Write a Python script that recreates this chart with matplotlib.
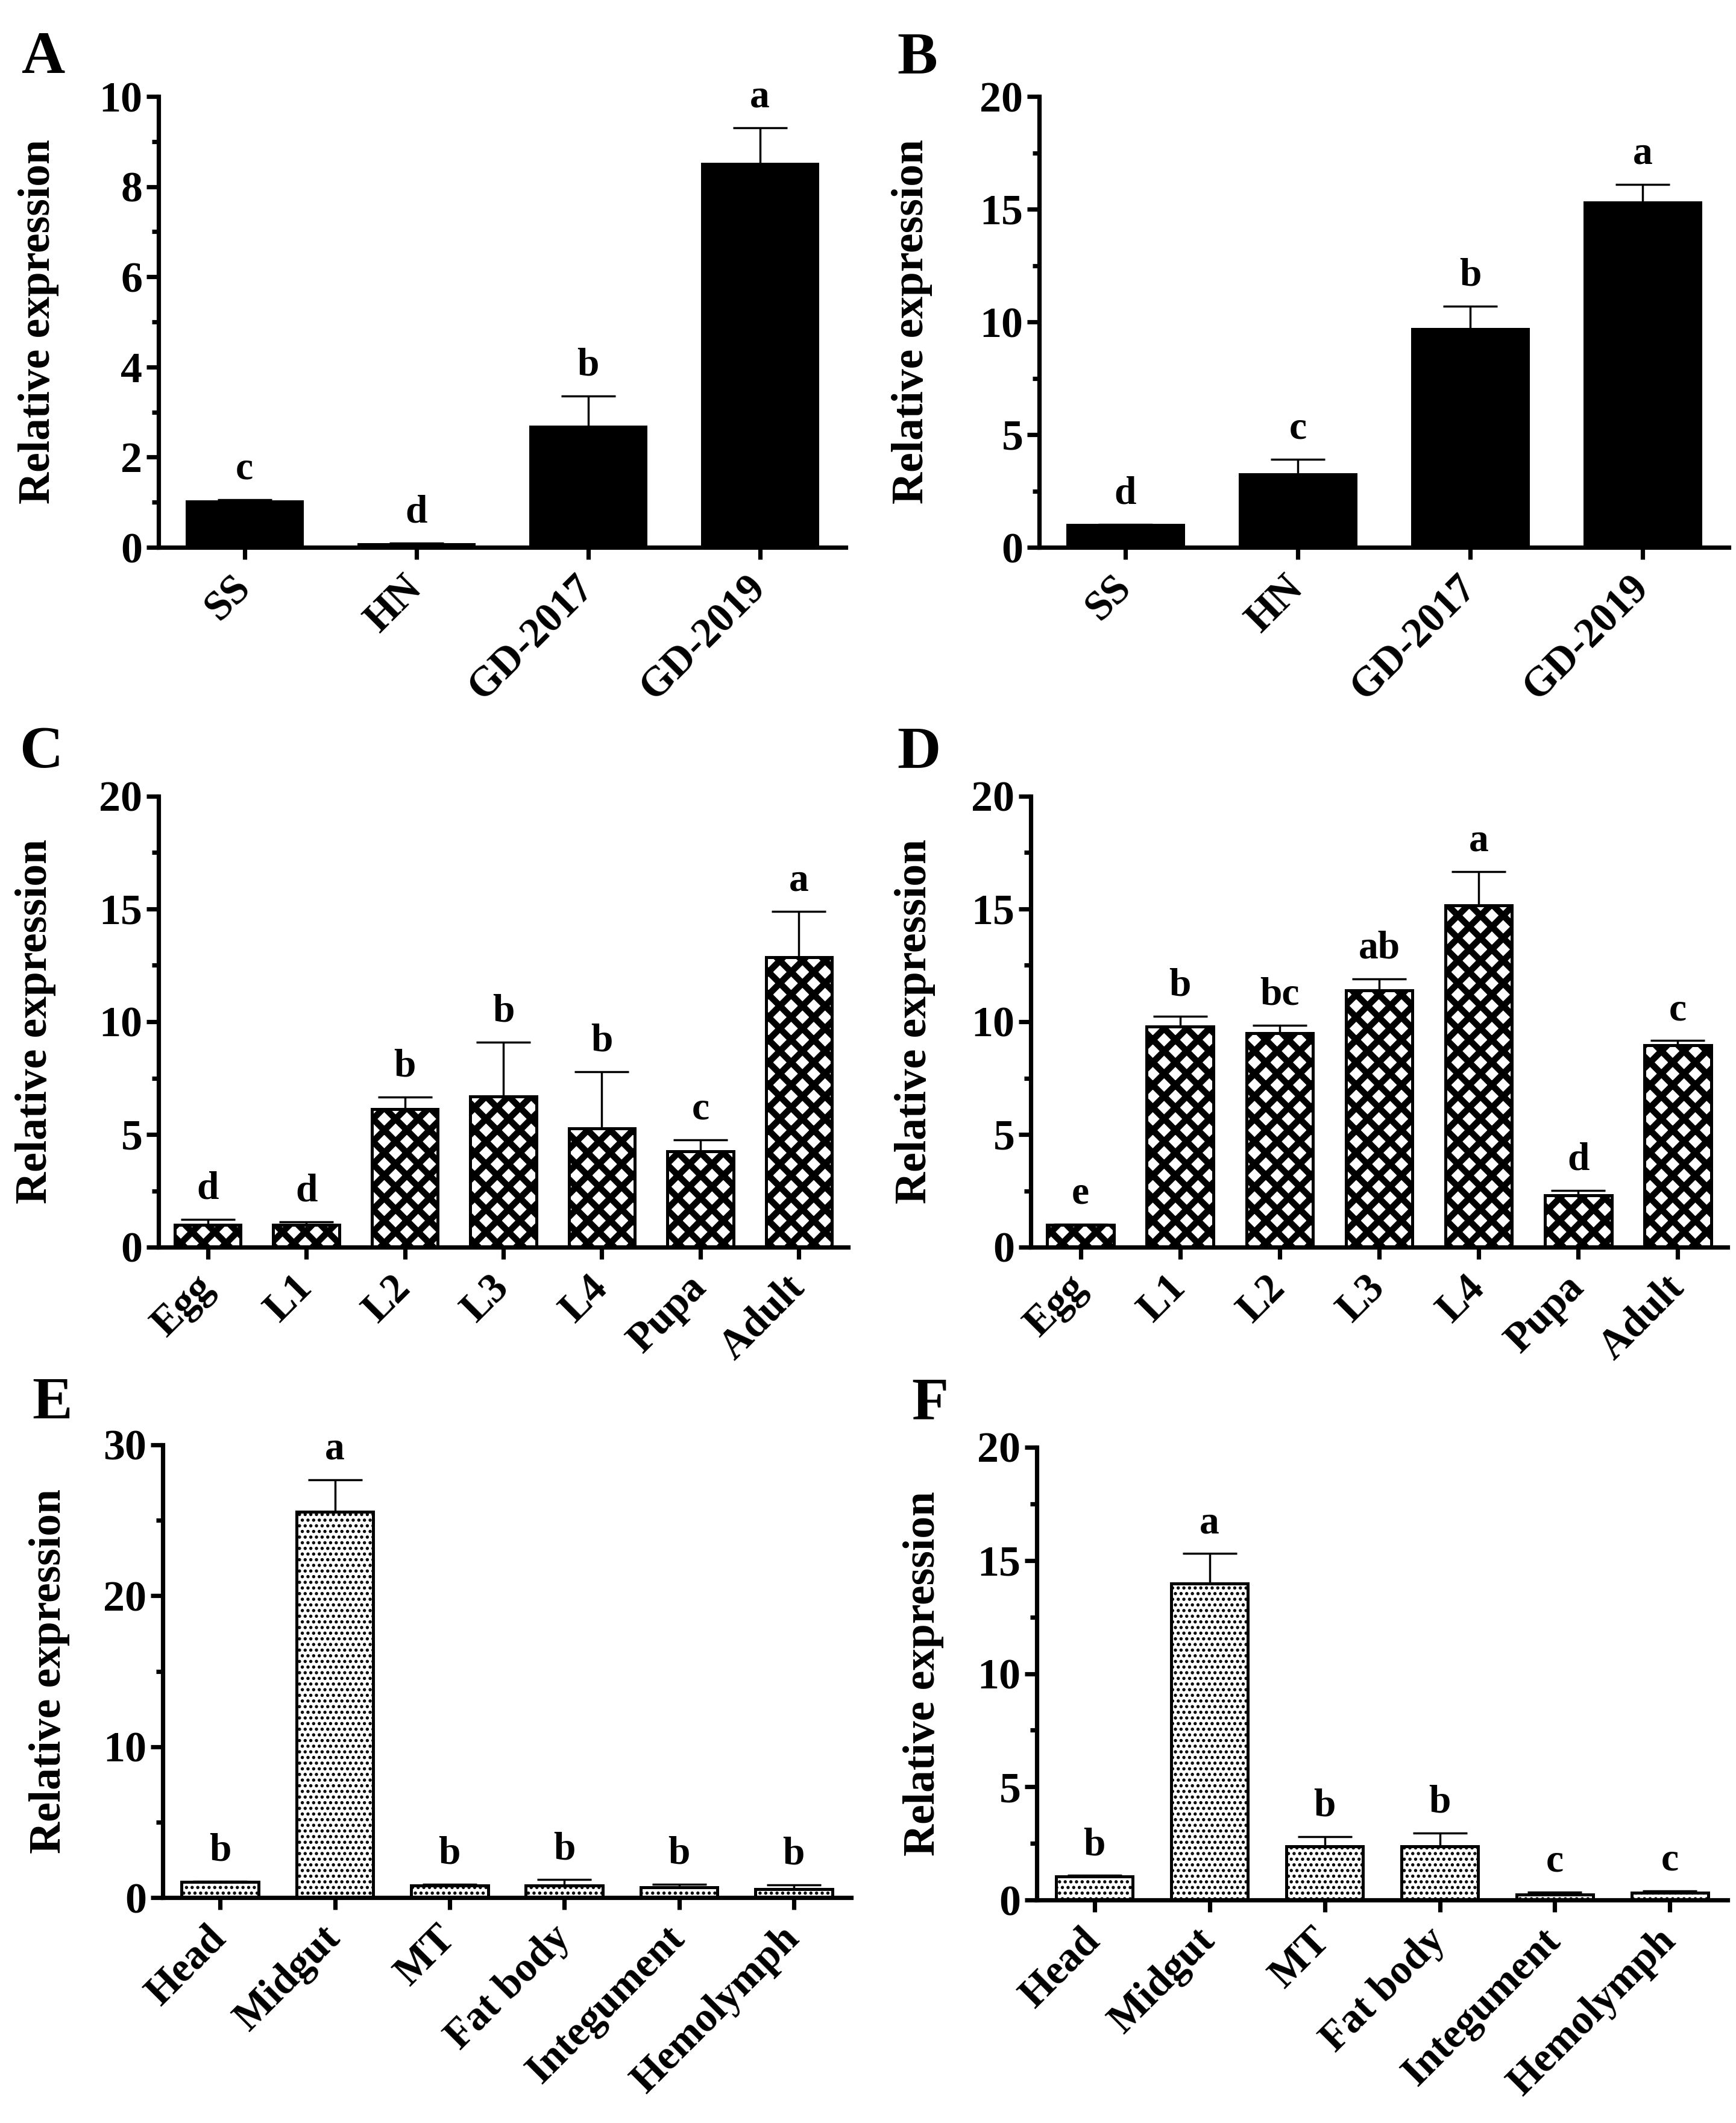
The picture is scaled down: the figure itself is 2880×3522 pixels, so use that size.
import matplotlib
matplotlib.use("Agg")
import matplotlib.pyplot as plt
import numpy as np
from matplotlib.ticker import MultipleLocator

plt.rcParams["font.family"] = "serif"
plt.rcParams["font.serif"] = ["Liberation Serif", "DejaVu Serif"]
plt.rcParams["font.weight"] = "bold"
plt.rcParams["axes.labelweight"] = "bold"

# ---- data ----
strains = ["SS", "HN", "GD-2017", "GD-2019"]
stages = ["Egg", "L1", "L2", "L3", "L4", "Pupa", "Adult"]
tissues = ["Head", "Midgut", "MT", "Fat body", "Integument", "Hemolymph"]

a_vals = [1.02, 0.07, 2.67, 8.50]
a_err = [0.04, 0.03, 0.69, 0.80]
a_sig = ["c", "d", "b", "a"]

b_vals = [1.00, 3.23, 9.69, 15.30]
b_err = [0.02, 0.68, 1.01, 0.79]
b_sig = ["d", "c", "b", "a"]

c_vals = [0.98, 0.98, 6.13, 6.69, 5.28, 4.25, 12.86]
c_err = [0.25, 0.15, 0.54, 2.41, 2.51, 0.51, 2.04]
c_sig = ["d", "d", "b", "b", "b", "c", "a"]

d_vals = [0.98, 9.78, 9.49, 11.40, 15.17, 2.29, 8.96]
d_err = [0.03, 0.47, 0.35, 0.50, 1.48, 0.23, 0.20]
d_sig = ["e", "b", "bc", "ab", "a", "d", "c"]

e_vals = [1.03, 25.55, 0.81, 0.81, 0.68, 0.56]
e_err = [0.05, 2.12, 0.06, 0.37, 0.19, 0.28]
e_sig = ["b", "a", "b", "b", "b", "b"]

f_vals = [1.04, 13.97, 2.38, 2.38, 0.25, 0.31]
f_err = [0.04, 1.33, 0.42, 0.58, 0.10, 0.10]
f_sig = ["b", "a", "b", "b", "c", "c"]

W, H, DPI = 2880, 3522, 225
fig = plt.figure(figsize=(W / DPI, H / DPI), dpi=DPI, facecolor="white")


def px_axes(left, right, top, zero):
    return fig.add_axes([left / W, 1 - zero / H, (right - left) / W, (zero - top) / H])


STYLES = {
    "solid": dict(facecolor="black", edgecolor="black", hatch=None, hlw=1.0),
    "cross": dict(facecolor="white", edgecolor="black", hatch="xx", hlw=3.4),
    "dots": dict(facecolor="white", edgecolor="black", hatch="....", hlw=1.1),
}


def draw_panel(ax, tag, cats, vals, errs, sig, ymax, major, style,
               label_right, tag_xy):
    st = STYLES[style]
    x = np.arange(len(cats))
    plt.rcParams["hatch.linewidth"] = st["hlw"]
    bars = ax.bar(x, vals, width=0.67, facecolor=st["facecolor"],
                  edgecolor=st["edgecolor"], linewidth=1.6, hatch=st["hatch"],
                  zorder=2)
    for b in bars:
        if hasattr(b, "set_hatch_linewidth"):
            b.set_hatch_linewidth(st["hlw"])
    ax.errorbar(x, vals, yerr=[np.zeros(len(vals)), errs], fmt="none",
                ecolor="black", elinewidth=1.1, capsize=14.5, capthick=1.1,
                zorder=1)
    for xi, v, e, s in zip(x, vals, errs, sig):
        ax.annotate(s, (xi, v + e), xytext=(0, 11), textcoords="offset points",
                    ha="center", va="baseline", fontsize=21, fontweight="bold")

    ax.set_xlim(-0.5, len(cats) - 0.5)
    ax.set_ylim(0, ymax)
    ax.yaxis.set_major_locator(MultipleLocator(major))
    ax.yaxis.set_minor_locator(MultipleLocator(major / 2))
    ax.set_xticks(x)
    ax.set_xticklabels(cats, rotation=45, ha="right", va="center",
                       rotation_mode="anchor", fontsize=22, fontweight="bold")
    for lab in ax.get_yticklabels():
        lab.set_fontsize(23)
        lab.set_fontweight("bold")

    for side in ("top", "right"):
        ax.spines[side].set_visible(False)
    for side in ("left", "bottom"):
        ax.spines[side].set_linewidth(2.3)
    ax.tick_params(axis="both", which="major", direction="out", width=2.3,
                   length=6.5, pad=2)
    ax.tick_params(axis="x", which="major", pad=12)
    ax.tick_params(axis="y", which="minor", direction="out", width=2.3,
                   length=3.5)
    ax.tick_params(axis="x", which="minor", bottom=False)

    ax.set_ylabel("Relative expression", fontsize=23.5, fontweight="bold")
    bb = ax.get_position()
    ax.yaxis.set_label_coords((label_right / W - bb.x0) / bb.width, 0.5)

    fig.text(tag_xy[0] / W, 1 - tag_xy[1] / H, tag, fontsize=32,
             fontweight="bold", ha="left", va="top")


axA = px_axes(263, 1403, 160, 908)
axB = px_axes(1724, 2868, 160, 908)
axC = px_axes(263, 1407, 1321, 2069)
axD = px_axes(1710, 2866, 1321, 2069)
axE = px_axes(270, 1412, 2397, 3148)
axF = px_axes(1720, 2866, 2401, 3152)

draw_panel(axA, "A", strains, a_vals, a_err, a_sig, 10, 2, "solid", 98, (36, 52))
draw_panel(axB, "B", strains, b_vals, b_err, b_sig, 20, 5, "solid", 1547, (1488, 52))
draw_panel(axC, "C", stages, c_vals, c_err, c_sig, 20, 5, "cross", 93, (32, 1204))
draw_panel(axD, "D", stages, d_vals, d_err, d_sig, 20, 5, "cross", 1552, (1488, 1204))
draw_panel(axE, "E", tissues, e_vals, e_err, e_sig, 30, 10, "dots", 116, (53, 2284))
draw_panel(axF, "F", tissues, f_vals, f_err, f_sig, 20, 5, "dots", 1566, (1512, 2284))

fig.savefig("out.png", dpi=DPI, facecolor="white")
